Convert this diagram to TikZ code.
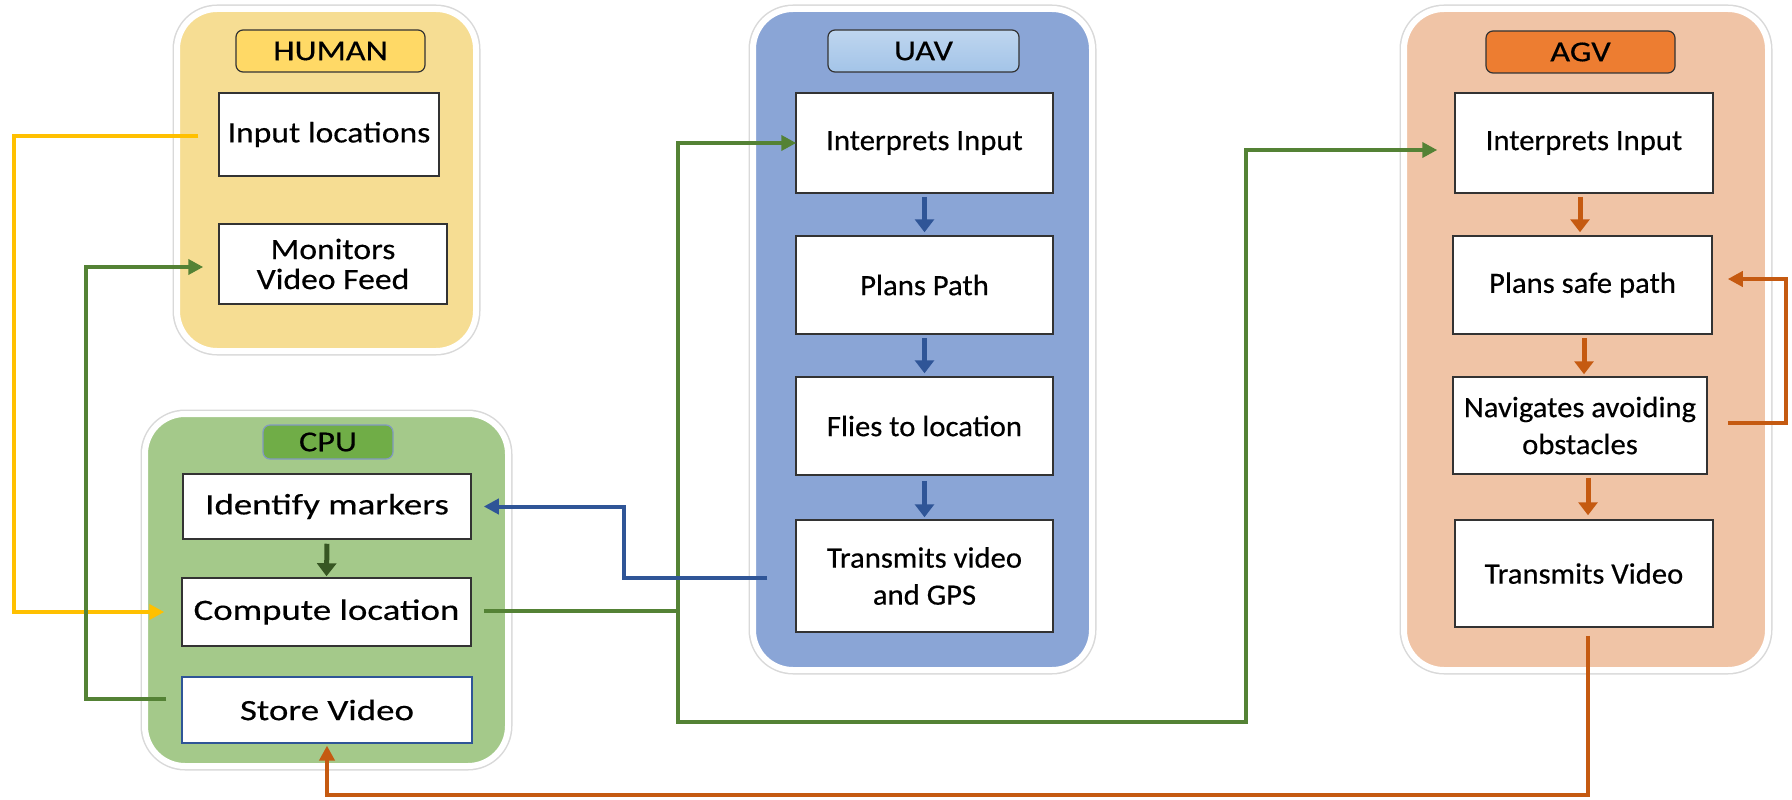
\documentclass[tikz,border=0pt]{standalone}
\usepackage{fontspec}
\setmainfont{Carlito}
\newfontfamily\hfont[FakeStretch=1.14,FakeBold=0.4]{Carlito}
\newfontfamily\cfont[FakeStretch=1.25,FakeBold=0.4]{Carlito}
\newfontfamily\ufont[FakeStretch=1.04,FakeBold=0.4]{Carlito}
\newfontfamily\lfont[FakeStretch=1.18,FakeBold=0.4]{Carlito}
\usetikzlibrary{arrows.meta,calc}
\definecolor{humanfill}{HTML}{F6DD93}
\definecolor{humanlab}{HTML}{FFD966}
\definecolor{cpufill}{HTML}{A4C98A}
\definecolor{cpulab}{HTML}{70AD47}
\definecolor{uavfill}{HTML}{8AA5D6}
\definecolor{uavlab}{HTML}{A3C4E8}
\definecolor{agvfill}{HTML}{F0C4A6}
\definecolor{agvlab}{HTML}{ED7D31}
\definecolor{cyel}{HTML}{FFC000}
\definecolor{cgreen}{HTML}{548235}
\definecolor{cdgreen}{HTML}{375623}
\definecolor{cblue}{HTML}{2F5597}
\definecolor{corange}{HTML}{C55A11}
\begin{document}
\begin{tikzpicture}[x=1pt,y=-1pt,
  container/.style={rounded corners=40pt, draw=white, line width=6pt,
    preaction={draw=gray!30, line width=9pt}, inner sep=0pt},
  lab/.style={rounded corners=7pt, draw=black!80, line width=1.2pt, inner sep=0pt,
    minimum height=42pt, font=\lfont\fontsize{29}{32}\selectfont},
  stepbox/.style={draw=black!80, line width=1.5pt, fill=white, inner sep=0pt, align=center},
  hbox/.style={stepbox, font=\hfont\fontsize{29.5}{30}\selectfont},
  cbox/.style={stepbox, font=\cfont\fontsize{29.5}{34}\selectfont},
  ubox/.style={stepbox, font=\ufont\fontsize{29.5}{37}\selectfont},
  conn/.style={line width=4pt, -{Triangle[width=15pt,length=15pt]}},
  inarr/.style={line width=5pt, -{Triangle[width=19pt,length=13pt]}}
]
\useasboundingbox (0,0) rectangle (1792,800);
\fill[white] (0,0) rectangle (1792,800);

% containers
\node[container, fill=humanfill, minimum width=299pt, minimum height=342pt] (humanC) at (326.5,180) {};
\node[container, fill=cpufill, minimum width=363pt, minimum height=352pt] (cpuC) at (326.5,590) {};
\node[container, fill=uavfill, minimum width=339pt, minimum height=661pt] (uavC) at (922.5,339.5) {};
\node[container, fill=agvfill, minimum width=364pt, minimum height=661pt] (agvC) at (1586,339.5) {};

% labels
\node[lab, fill=humanlab, minimum width=189pt] (humanL) at (330.5,51) {HUMAN};
\node[lab, fill=cpulab, draw=cblue!60, minimum width=130pt, minimum height=34pt] (cpuL) at (328,442) {CPU};
\node[lab, top color=uavlab!70!white, bottom color=uavlab, minimum width=191pt] (uavL) at (923.5,51) {UAV};
\node[lab, fill=agvlab, minimum width=189pt] (agvL) at (1580.5,52) {AGV};

% human steps
\node[hbox, minimum width=220pt, minimum height=83pt] (inl) at (329,134.5) {Input locations};
\node[hbox, minimum width=228pt, minimum height=80pt] (mon) at (333,264) {Monitors\\Video Feed};

% cpu steps
\node[cbox, minimum width=288pt, minimum height=65pt] (idm) at (327,506.5) {Identify markers};
\node[cbox, minimum width=289pt, minimum height=68pt] (comp) at (326.5,612) {Compute location};
\node[cbox, draw=cblue, line width=1.2pt, minimum width=290pt, minimum height=66pt] (store) at (327,710) {Store Video};

% uav steps
\node[ubox, minimum width=257pt, minimum height=100pt] (uint) at (924.5,143) {Interprets Input};
\node[ubox, minimum width=257pt, minimum height=98pt] (uplan) at (924.5,285) {Plans Path};
\node[ubox, minimum width=257pt, minimum height=98pt] (ufly) at (924.5,426) {Flies to location};
\node[ubox, minimum width=257pt, minimum height=112pt] (utx) at (924.5,576) {Transmits video\\and GPS};

% agv steps
\node[ubox, minimum width=258pt, minimum height=100pt] (aint) at (1584,143) {Interprets Input};
\node[ubox, minimum width=259pt, minimum height=98pt] (aplan) at (1582.5,285) {Plans safe path};
\node[ubox, minimum width=254pt, minimum height=97pt] (anav) at (1580,425.5) {Navigates avoiding\\obstacles};
\node[ubox, minimum width=258pt, minimum height=107pt] (atx) at (1584,573.5) {Transmits Video};

% internal arrows
\draw[inarr, cblue] ([yshift=-3pt]uint.south) -- ([yshift=3pt]uplan.north);
\draw[inarr, cblue] ([yshift=-3pt]uplan.south) -- ([yshift=3pt]ufly.north);
\draw[inarr, cblue] ([yshift=-5pt]ufly.south) -- ([yshift=2pt]utx.north);
\draw[inarr, cdgreen] ([yshift=-4pt]idm.south) -- ([yshift=1pt]comp.north);
\draw[inarr, corange] ([xshift=-4pt,yshift=-3pt]aint.south) -- ([xshift=-2.5pt,yshift=3pt]aplan.north);
\draw[inarr, corange] ([xshift=1.5pt,yshift=-3pt]aplan.south) -- ([xshift=4pt,yshift=2pt]anav.north);
\draw[inarr, corange] ([xshift=8pt,yshift=-3pt]anav.south) -- ([xshift=4pt,yshift=4pt]atx.north);

% connectors
\draw[conn, cyel] ([xshift=-20pt,yshift=-1.5pt]inl.west) -- ++(-184,0) |- ([xshift=-17pt]comp.west);
\draw[conn, cgreen] ([xshift=-15pt,yshift=11pt]store.west) -- ++(-80,0) |- ([xshift=-15pt,yshift=-3pt]mon.west);
\draw[conn, cgreen] ([xshift=12pt,yshift=1pt]comp.east) -- (678,611) |- ([xshift=1pt]uint.west);
\draw[conn, cgreen] (678,611) -- (678,722) -- (1246,722) |- ([xshift=-17pt,yshift=-7pt]aint.west);
\draw[conn, cblue] ([xshift=-28pt,yshift=-2pt]utx.west) -- ++(-143,0) |- ([xshift=12pt]idm.east);
\draw[conn, corange] ([xshift=4pt,yshift=-8pt]atx.south) |- (327,795) -- ([yshift=-2pt]store.south);
\draw[conn, corange] ([xshift=20pt,yshift=2.5pt]anav.east) -- (1786,423) |- ([xshift=15pt,yshift=6pt]aplan.east);
\end{tikzpicture}
\end{document}
